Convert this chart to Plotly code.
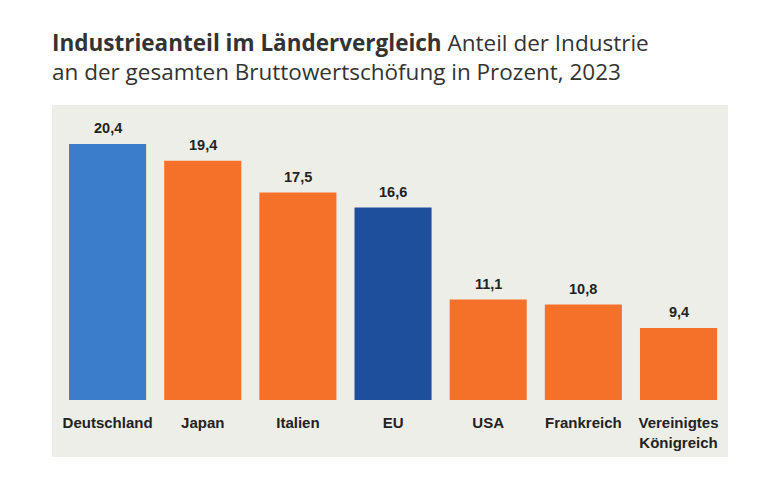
import plotly.graph_objects as go

categories = ["Deutschland", "Japan", "Italien", "EU", "USA", "Frankreich", "Vereinigtes<br>Königreich"]
values = [20.4, 19.4, 17.5, 16.6, 11.1, 10.8, 9.4]
colors = ["#3B7DC9", "#F5712A", "#F5712A", "#1D4F9C", "#F5712A", "#F5712A", "#F5712A"]

AXIS_MIN = 5.1
AXIS_MAX = 22.73
labels = [f"{v:.1f}".replace(".", ",") for v in values]

fig = go.Figure()
fig.add_trace(go.Bar(
    x=categories,
    y=[v - AXIS_MIN for v in values],
    base=AXIS_MIN,
    marker=dict(color=colors, line=dict(width=0)),
    hoverinfo="skip",
))

for c, v, t in zip(categories, values, labels):
    fig.add_annotation(x=c, y=v, text=f"<b>{t}</b>", showarrow=False, yanchor="bottom", yshift=6,
                       font=dict(family="Liberation Sans", size=14.5, color="#222222"))

# page body has 8px margin
W, H = 760, 472
l, r, t, b = 44, 40, 97, 80
ph = H - t - b
fig.add_shape(type="rect", xref="paper", yref="paper", x0=0, x1=1,
              y0=-(457 - 400) / ph, y1=1, fillcolor="#EEEEE9", line=dict(width=0), layer="below")

fig.update_layout(
    width=W, height=H,
    margin=dict(l=l, r=r, t=t, b=b, pad=0),
    paper_bgcolor="white",
    plot_bgcolor="rgba(0,0,0,0)",
    bargap=0.19,
    showlegend=False,
    title=dict(
        text="<b>Industrieanteil im Ländervergleich</b> Anteil der Industrie<br>an der gesamten Bruttowertschöfung in Prozent, 2023",
        x=44 / W, xanchor="left", xref="container", y=1 - 43 / H, yanchor="top", yref="container",
        pad=dict(t=0, b=0, l=0, r=0),
        font=dict(family="Open Sans", size=22.5, color="#333333"),
    ),
    xaxis=dict(range=[-0.584, 6.52], showgrid=False, zeroline=False, showline=False,
               ticks="", tickfont=dict(family="Liberation Sans", size=15, color="#222222"),
               ticklabelstandoff=12, fixedrange=True,
               tickvals=categories, ticktext=[f"<b>{c}</b>" for c in categories]),
    yaxis=dict(range=[AXIS_MIN, AXIS_MAX], visible=False, fixedrange=True),
)

fig.write_html("out.html")
